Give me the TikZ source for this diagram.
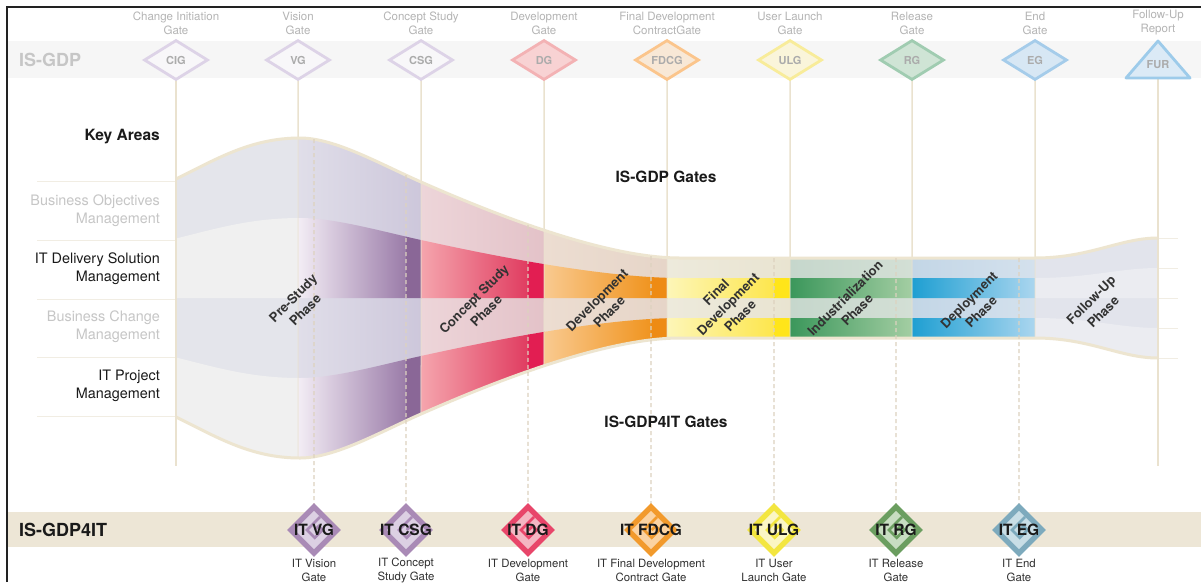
\documentclass[tikz,border=0pt]{standalone}
\usepackage{fontspec}
\setmainfont{TeX Gyre Heros}
\usetikzlibrary{shapes.geometric,intersections}

\definecolor{frameC}{HTML}{222222}
\definecolor{bandTop}{HTML}{F6F6F6}
\definecolor{bandBot}{HTML}{EDE6D6}
\definecolor{lineC}{HTML}{EAE2CF}
\definecolor{dashC}{HTML}{DDD2BF}
\definecolor{borderC}{HTML}{EDE5D0}
\definecolor{sepC}{HTML}{F1EDE3}
\definecolor{capText}{HTML}{B4B4B4}
\definecolor{gateText}{HTML}{ABABAB}
\definecolor{grayLabel}{HTML}{C6C6C6}
\definecolor{phaseText}{HTML}{333333}
\definecolor{darkText}{HTML}{1A1A1A}
% top gates
\definecolor{cigB}{HTML}{DDD3E7}\definecolor{cigF}{HTML}{F8F7F9}
\definecolor{dgB}{HTML}{F3B2B4}\definecolor{dgF}{HTML}{F8D2D3}
\definecolor{fdB}{HTML}{FBC58C}\definecolor{fdF}{HTML}{F8E8D6}
\definecolor{ulB}{HTML}{F8EC9A}\definecolor{ulF}{HTML}{FAF5DA}
\definecolor{rgB}{HTML}{A0CCB1}\definecolor{rgF}{HTML}{CFE4D5}
\definecolor{egB}{HTML}{A5CCEA}\definecolor{egF}{HTML}{D7E7F4}
\definecolor{furB}{HTML}{9DCBEA}\definecolor{furF}{HTML}{DBEAF6}
% IT gates
\definecolor{ivB}{HTML}{A98AB6}\definecolor{ivF}{HTML}{DCD0E3}
\definecolor{idB}{HTML}{E8466A}\definecolor{idF}{HTML}{F4B6C2}
\definecolor{ifB}{HTML}{F29A2C}\definecolor{ifF}{HTML}{FBD3A2}
\definecolor{iuB}{HTML}{F3E640}\definecolor{iuF}{HTML}{FBF6C4}
\definecolor{irB}{HTML}{6B9E60}\definecolor{irF}{HTML}{C8DDC2}
\definecolor{ieB}{HTML}{7DAABD}\definecolor{ieF}{HTML}{C8DEE6}
% light rows
\definecolor{L0}{HTML}{E4E5EB}
\definecolor{L1a}{HTML}{E0DEE9}\definecolor{L1b}{HTML}{CDC7DB}
\definecolor{L2a}{HTML}{EDD5D9}\definecolor{L2b}{HTML}{E3C2C8}
\definecolor{L3a}{HTML}{ECDDD1}\definecolor{L3b}{HTML}{E6D5C8}
\definecolor{L4a}{HTML}{EDEADC}\definecolor{L4b}{HTML}{E9E4D1}
\definecolor{L5a}{HTML}{C6D7CC}\definecolor{L5b}{HTML}{D3DFD5}
\definecolor{L6a}{HTML}{C3D6E6}\definecolor{L6b}{HTML}{D4E1ED}
\definecolor{L7}{HTML}{E2E4EC}
% strong rows
\definecolor{S0}{HTML}{F0F0F0}
\definecolor{S1a}{HTML}{F3EDF5}\definecolor{S1b}{HTML}{9A7BA8}\definecolor{S1c}{HTML}{8A6797}
\definecolor{S2a}{HTML}{F5A5AD}\definecolor{S2b}{HTML}{E03C60}\definecolor{S2c}{HTML}{E21E52}
\definecolor{S3a}{HTML}{F9CA90}\definecolor{S3b}{HTML}{F0941F}\definecolor{S3c}{HTML}{EE8B14}
\definecolor{S4a}{HTML}{FDF6B8}\definecolor{S4b}{HTML}{FDE64C}\definecolor{S4c}{HTML}{FFE51A}
\definecolor{S5a}{HTML}{3B975B}\definecolor{S5b}{HTML}{A4CEA3}
\definecolor{S6a}{HTML}{1E9FD2}\definecolor{S6b}{HTML}{ABD6EF}
\definecolor{S7}{HTML}{EBECF1}

% funnel envelope at fraction #1 of its half height (centre y = 298)
\newcommand{\envF}[1]{(176,{298-(#1)*119}) .. controls (215,{298-(#1)*138}) and (250,{298-(#1)*160}) .. (300,{298-(#1)*160}) .. controls (335,{298-(#1)*160}) and (380,{298-(#1)*134}) .. (421,{298-(#1)*116}) .. controls (480,{298-(#1)*90}) and (600,{298-(#1)*40}) .. (680,{298-(#1)*40}) -- (1035,{298-(#1)*40}) .. controls (1090,{298-(#1)*40}) and (1120,{298-(#1)*60}) .. (1158,{298-(#1)*60})}
\newcommand{\envB}[1]{(1158,{298-(#1)*60}) .. controls (1120,{298-(#1)*60}) and (1090,{298-(#1)*40}) .. (1035,{298-(#1)*40}) -- (680,{298-(#1)*40}) .. controls (600,{298-(#1)*40}) and (480,{298-(#1)*90}) .. (421,{298-(#1)*116}) .. controls (380,{298-(#1)*134}) and (335,{298-(#1)*160}) .. (300,{298-(#1)*160}) .. controls (250,{298-(#1)*160}) and (215,{298-(#1)*138}) .. (176,{298-(#1)*119})}

\newcommand{\lightrow}{%
 \fill[L0] (170,100) rectangle (298.5,500);
 \shade[left color=L1a, right color=L1b] (298,100) rectangle (421.5,500);
 \shade[left color=L2a, right color=L2b] (421,100) rectangle (544.5,500);
 \shade[left color=L3a, right color=L3b] (544,100) rectangle (667.5,500);
 \shade[left color=L4a, right color=L4b] (667,100) rectangle (790.5,500);
 \shade[left color=L5a, right color=L5b] (790,100) rectangle (912.5,500);
 \shade[left color=L6a, right color=L6b] (912,100) rectangle (1035.5,500);
 \fill[L7] (1035,100) rectangle (1165,500);}
\newcommand{\strongrow}{%
 \fill[S0] (170,100) rectangle (298.5,500);
 \shade[left color=S1a, right color=S1b] (298,100) rectangle (406.5,500);
 \fill[S1c] (406,100) rectangle (421.5,500);
 \shade[left color=S2a, right color=S2b] (421,100) rectangle (528.5,500);
 \fill[S2c] (528,100) rectangle (544.5,500);
 \shade[left color=S3a, right color=S3b] (544,100) rectangle (651.5,500);
 \fill[S3c] (651,100) rectangle (667.5,500);
 \shade[left color=S4a, right color=S4b] (667,100) rectangle (774.5,500);
 \fill[S4c] (774,100) rectangle (790.5,500);
 \shade[left color=S5a, right color=S5b] (790,100) rectangle (912.5,500);
 \shade[left color=S6a, right color=S6b] (912,100) rectangle (1035.5,500);
 \fill[S7] (1035,100) rectangle (1165,500);}

\newcommand{\botpt}[2]{\path[name path=vb#1] (#2,0) -- (#2,600); \path[name intersections={of=botenv and vb#1, by={b#1}}];}
\newcommand{\toppt}[2]{\path[name path=vt#1] (#2,0) -- (#2,600); \path[name intersections={of=topenv and vt#1, by={t#1}}];}

% IT gate: name, x, border colour, light colour, label, caption
\newcommand{\itg}[6]{%
 \node[itgate, fill=#3] (#1) at (#2,530) {};
 \begin{scope}[shift={(#2,530)}, rotate=45]
   \fill[#4] (-13.5,-13.5) rectangle (13.5,13.5);
   \draw[#3, line width=2.6pt] (13.5,-5) -- (-5,-5) -- (-5,6) -- (6,6) -- (6,0.5) -- (0.5,0.5);
 \end{scope}
 \node[itlabel] (#1t) at (#1) {#5};
 \node[itcap] (#1c) at (#2,570) {#6};}

\begin{document}
\begin{tikzpicture}[x=1pt,y=-1pt,
  topgate/.style={shape=diamond, aspect=1.55, minimum width=64pt, minimum height=40pt, inner sep=0pt, line width=2.8pt, font=\bfseries\fontsize{11}{12}\selectfont, text=gateText},
  gatecap/.style={align=center, font=\fontsize{11.5}{14}\selectfont, text=capText},
  itgate/.style={shape=diamond, minimum width=54pt, minimum height=54pt, inner sep=0pt},
  itlabel/.style={font=\bfseries\fontsize{15.5}{17}\selectfont, text=darkText, inner sep=0pt},
  itcap/.style={align=center, font=\fontsize{11.4}{14}\selectfont, text=darkText!90},
  keyarea/.style={anchor=east, align=right, font=\fontsize{14.4}{18}\selectfont, inner sep=0pt},
  phase/.style={rotate=45, align=center, inner sep=0pt, font=\bfseries\fontsize{13}{17}\selectfont, text=phaseText},
  gline/.style={draw=lineC, line width=1.5pt},
  dline/.style={draw=dashC, line width=1.3pt, dash pattern=on 4pt off 3pt},
  sep/.style={draw=sepC, line width=1pt},
  title/.style={font=\bfseries\fontsize{15.5}{17}\selectfont, text=darkText}
]
\useasboundingbox (0,0) rectangle (1201,582);
\fill[white] (0,0) rectangle (1201,582);

% bands
\fill[bandTop] (8,41) rectangle (1201,78);
\fill[bandBot] (8,512) rectangle (1201,547);
\node[anchor=west, font=\bfseries\fontsize{18}{20}\selectfont, text=grayLabel, inner sep=0pt] (isgdp) at (19,60) {IS-GDP};
\node[anchor=west, font=\bfseries\fontsize{18}{20}\selectfont, text=darkText, inner sep=0pt] (isgdp4it) at (19,530) {IS-GDP4IT};

% key area separators
\foreach \yy in {181,240,299,357,416} \draw[sep] (37,\yy) -- (176,\yy);
\foreach \yy in {238,268,298,328,358} \draw[sep] (1158,\yy) -- (1178,\yy);

% envelope paths
\path[name path=topenv] \envF{1};
\path[name path=botenv] \envF{-1};

% gate coordinates
\foreach \n/\x in {CIG/176,VG/298,CSG/421,DG/544,FDCG/667,ULG/790,RG/912,EG/1035,FUR/1158} {\coordinate (g\n) at (\x,60);}
\coordinate (bCIG) at (176,466);
\coordinate (bFUR) at (1158,466);
\botpt{VG}{298}\botpt{CSG}{421}\botpt{DG}{544}\botpt{FDCG}{667}\botpt{ULG}{790}\botpt{RG}{912}\botpt{EG}{1035}
\toppt{ITVG}{314}\toppt{ITCSG}{406}\toppt{ITDG}{528}\toppt{ITFDCG}{651}\toppt{ITULG}{774}\toppt{ITRG}{896}\toppt{ITEG}{1019}

% gate lines (behind funnel)
\foreach \n in {CIG,VG,CSG,DG,FDCG,ULG,RG,EG,FUR} \draw[gline] (g\n) -- (b\n);

% funnel fill
\fill[L0] \envF{1} -- \envB{-1} -- cycle;
\begin{scope}\clip \envF{1} -- \envB{-1} -- cycle; \lightrow \end{scope}
\begin{scope}\clip \envF{0.5} -- \envB{0} -- cycle; \strongrow \end{scope}
\begin{scope}\clip \envF{-0.5} -- \envB{-1} -- cycle; \strongrow \end{scope}
% gate lines faintly through funnel
\begin{scope}\clip \envF{1} -- \envB{-1} -- cycle;
 \foreach \n in {VG,CSG,DG,FDCG,ULG,RG,EG} \draw[gline, opacity=0.45] (g\n) -- (b\n);
\end{scope}
% funnel border
\draw[draw=borderC, line width=3pt] \envF{1};
\draw[draw=borderC, line width=3pt] \envF{-1};
\draw[gline] (gCIG) -- (bCIG);
\draw[gline] (gFUR) -- (bFUR);

% dashed IT gate lines
\foreach \n/\x in {ITVG/314,ITCSG/406,ITDG/528,ITFDCG/651,ITULG/774,ITRG/896,ITEG/1019} {\coordinate (e\n) at (\x,505);}
\foreach \n in {ITVG,ITCSG,ITDG,ITFDCG,ITULG,ITRG,ITEG} \draw[dline] (t\n) -- (e\n);

% key areas
\node[anchor=east, font=\bfseries\fontsize{15.5}{17}\selectfont, text=darkText, inner sep=0pt] (keyareas) at (160,137) {Key Areas};
\node[keyarea, text=grayLabel] (boM) at (160,211) {Business Objectives\\Management};
\node[keyarea, text=darkText] (itdM) at (160,269) {IT Delivery Solution\\Management};
\node[keyarea, text=grayLabel] (bcM) at (160,327) {Business Change\\Management};
\node[keyarea, text=darkText] (itpM) at (160,386) {IT Project\\Management};

% titles
\node[title] (gdpGates) at (666,177) {IS-GDP Gates};
\node[title] (gdp4Gates) at (666,422) {IS-GDP4IT Gates};

% phase labels
\node[phase] (phPre) at (299,304) {Pre-Study\\Phase};
\node[phase] (phCon) at (480,305) {Concept Study\\Phase};
\node[phase] (phDev) at (603,306) {Development\\Phase};
\node[phase] (phFin) at (728,304) {Final\\Development\\Phase};
\node[phase] (phInd) at (851,304) {Industrialization\\Phase};
\node[phase] (phDep) at (975,306) {Deployment\\Phase};
\node[phase] (phFol) at (1097,306) {Follow-Up\\Phase};

% top gates
\node[topgate, draw=cigB, fill=cigF] (CIG) at (gCIG) {CIG};
\node[topgate, draw=cigB, fill=cigF] (VG) at (gVG) {VG};
\node[topgate, draw=cigB, fill=cigF] (CSG) at (gCSG) {CSG};
\node[topgate, draw=dgB, fill=dgF] (DG) at (gDG) {DG};
\node[topgate, draw=fdB, fill=fdF] (FDCG) at (gFDCG) {FDCG};
\node[topgate, draw=ulB, fill=ulF] (ULG) at (gULG) {ULG};
\node[topgate, draw=rgB, fill=rgF] (RG) at (gRG) {RG};
\node[topgate, draw=egB, fill=egF] (EG) at (gEG) {EG};
\coordinate (furA) at (1158,41);
\coordinate (furR) at (1190,78);
\coordinate (furL) at (1126,78);
\filldraw[draw=furB, fill=furF, line width=2.8pt, line join=round] (furA) -- (furR) -- (furL) -- cycle;
\node[font=\bfseries\fontsize{11}{12}\selectfont, text=gateText] (FUR) at (1158,65) {FUR};

% top captions
\node[gatecap] (cCIG) at (176,23) {Change Initiation\\Gate};
\node[gatecap] (cVG) at (298,23) {Vision\\Gate};
\node[gatecap] (cCSG) at (421,23) {Concept Study\\Gate};
\node[gatecap] (cDG) at (544,23) {Development\\Gate};
\node[gatecap] (cFDCG) at (667,23) {Final Development\\ContractGate};
\node[gatecap] (cULG) at (790,23) {User Launch\\Gate};
\node[gatecap] (cRG) at (912,23) {Release\\Gate};
\node[gatecap] (cEG) at (1035,23) {End\\Gate};
\node[gatecap] (cFUR) at (1158,23) {Follow-Up\\Report};

% IT gates
\itg{ITVG}{314}{ivB}{ivF}{IT VG}{IT Vision\\Gate}
\itg{ITCSG}{406}{ivB}{ivF}{IT CSG}{IT Concept\\Study Gate}
\itg{ITDG}{528}{idB}{idF}{IT DG}{IT Development\\Gate}
\itg{ITFDCG}{651}{ifB}{ifF}{IT FDCG}{IT Final Development\\Contract Gate}
\itg{ITULG}{774}{iuB}{iuF}{IT ULG}{IT User\\Launch Gate}
\itg{ITRG}{896}{irB}{irF}{IT RG}{IT Release\\Gate}
\itg{ITEG}{1019}{ieB}{ieF}{IT EG}{IT End\\Gate}

% frame
\draw[frameC, line width=2pt] (7,582) -- (7,7) -- (1201,7);
\end{tikzpicture}
\end{document}
